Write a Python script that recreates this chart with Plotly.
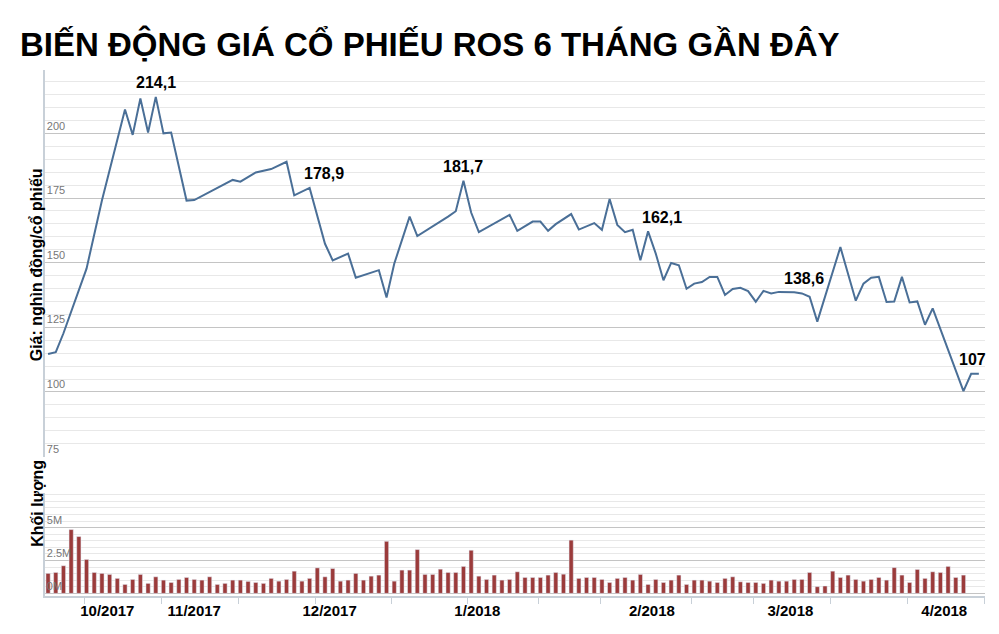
import plotly.graph_objects as go

# Price vertices (trading-day index, price in thousand VND)
price_day = [0,1,2,5,7,10,11,12,13,14,15,16,18,19,24,25,27,29,31,32,34,36,37,39,40,43,44,45,47,48,52,53,54,55,56,60,61,62,63,64,65,66,68,69,71,72,73,74,75,76,77,78,79,80,81,82,83,84,85,86,87,88,89,90,91,92,93,94,95,97,98,99,100,103,105,106,107,108,109,110,111,112,113,114,115,119,120,121]
price_val = [114.7,115.4,122.7,147.7,174,209.2,199.4,213.5,200.3,214.1,200,200.3,174,174.2,182,181.3,184.9,186.2,189,176,178.9,157.3,150.9,153.5,144.2,147.1,136.5,149.6,167.8,160.3,167.8,169.9,181.7,169.4,161.8,168.5,162.3,164,165.9,165.9,162.3,164.9,168.8,162.8,165.3,162.7,174.6,164.6,161.8,162.7,150.9,162.1,153.5,143.2,149.9,149,139.9,141.9,142.5,144.5,144.5,137.5,139.8,140.3,139,134.9,139.1,138.1,138.7,138.6,138.1,136.8,127.2,156,135.3,141.9,144.2,144.5,134.8,135,144.5,134.6,135,126,132.3,100.3,107,107]

# Volume per trading day (millions of shares)
volume = [1.52,1.59,2.1,4.85,4.32,2.58,1.59,1.52,1.44,1.14,0.68,1.06,1.44,0.76,1.26,1.01,0.83,1.06,1.21,1.06,1.01,1.26,0.68,0.76,1.01,1.01,0.91,0.83,0.76,1.14,0.93,1.06,1.69,0.93,1.14,1.94,1.26,1.89,0.93,1.01,1.52,1.01,1.31,1.39,3.96,0.93,1.77,1.77,3.33,1.44,1.44,1.84,1.59,1.59,2.05,3.28,1.31,1.06,1.39,1.01,1.06,
          1.64,1.21,1.21,1.21,1.39,1.59,1.46,4.05,1.14,1.21,1.21,1.06,0.83,1.14,1.21,1.01,1.44,0.68,1.06,0.83,1.01,1.39,0.68,1.01,1.01,0.93,0.83,1.14,1.26,0.88,0.83,0.83,0.76,1.01,0.93,0.93,1.06,1.06,1.59,0.51,0.56,1.69,1.21,1.39,1.06,0.93,1.06,1.21,1.01,1.96,1.39,0.83,1.82,1.14,1.64,1.59,2.05,1.21,1.39]
vol_day = list(range(len(volume)))

labels = [(14, 214.1, "214,1", 0, 14), (34, 178.9, "178,9", 14, 14), (54, 181.7, "181,7", 0, 14),
          (78, 162.1, "162,1", 14, 14), (97, 138.6, "138,6", 10, 14), (121, 107, "107", -6, 14)]

month_labels = ["10/2017", "11/2017", "12/2017", "1/2018", "2/2018", "3/2018", "4/2018"]
month_pos = [7.7, 19, 36.6, 55.8, 78.5, 96.5, 116.5]
tick_marks = [4.7, 14.8, 24.7, 34.7, 44.6, 54.5, 63.7, 71.8, 83.6, 91.7, 101.7, 111.7, 121.7]

fig = go.Figure()
fig.add_trace(go.Scatter(x=price_day, y=price_val, mode="lines",
                         line=dict(color="#4a6f97", width=2), xaxis="x", yaxis="y"))
fig.add_trace(go.Bar(x=vol_day, y=volume, marker_color="#9b3b3b", width=0.55,
                     xaxis="x2", yaxis="y2"))

xr = [-0.4, 121.8]
fig.update_layout(
    width=999, height=634, showlegend=False, plot_bgcolor="white", paper_bgcolor="white",
    margin=dict(l=37, r=22, t=62, b=46, autoexpand=False),
    font=dict(family="Arial, Liberation Sans", color="#666"),
    xaxis=dict(domain=[0, 1], range=xr, showticklabels=False, showgrid=False,
               anchor="y", zeroline=False, automargin=False),
    yaxis=dict(domain=[0.265, 1], range=[75, 224.5], tickvals=[75, 100, 125, 150, 175, 200],
               ticklabelposition="inside top", tickfont=dict(size=11, color="#777"),
               gridcolor="#c4c4c4", showline=True, linecolor="#c8d0d8", linewidth=2, automargin=False,
               minor=dict(dtick=5, showgrid=True, gridcolor="#e8e8e8"), zeroline=False),
    xaxis2=dict(domain=[0, 1], range=xr, anchor="y2", tickvals=month_pos, ticktext=month_labels,
                ticks="", tickfont=dict(family="Arial", size=15, color="black", weight="bold"),
                showgrid=False, showline=True, linecolor="#c8d0d8", linewidth=2, automargin=False,
                minor=dict(tickvals=tick_marks, ticks="outside", ticklen=6, tickcolor="#c8d0d8")),
    yaxis2=dict(domain=[0, 0.195], range=[-0.2, 7.6], tickvals=[0, 2.5, 5], ticktext=["0M", "2.5M", "5M"],
                ticklabelposition="inside top", tickfont=dict(size=11, color="#777"), automargin=False,
                gridcolor="#c4c4c4", showline=True, linecolor="#c8d0d8", linewidth=2,
                minor=dict(dtick=0.5, showgrid=True, gridcolor="#e8e8e8"), zeroline=False),
    bargap=0.3,
)

fig.add_annotation(text="<b>BIẾN ĐỘNG GIÁ CỔ PHIẾU ROS 6 THÁNG GẦN ĐÂY</b>", xref="paper", yref="paper",
                   x=-0.029, y=1.0, yshift=26, xanchor="left", yanchor="middle", showarrow=False,
                   font=dict(size=33, color="black", family="Arial"))
fig.add_annotation(text="<b>Giá: nghìn đồng/cổ phiếu</b>", xref="paper", yref="paper", x=-0.02, y=0.63,
                   textangle=-90, showarrow=False, font=dict(size=16, color="black"))
fig.add_annotation(text="<b>Khối lượng</b>", xref="paper", yref="paper", x=-0.02, y=0.09,
                   textangle=-90, showarrow=False, font=dict(size=16, color="black"))
for d, v, t, xs, ys in labels:
    fig.add_annotation(x=d, y=v, text="<b>" + t + "</b>", xref="x", yref="y", showarrow=False,
                       xshift=xs, yshift=ys, font=dict(size=16, color="black"))

fig.write_html("out.html")
